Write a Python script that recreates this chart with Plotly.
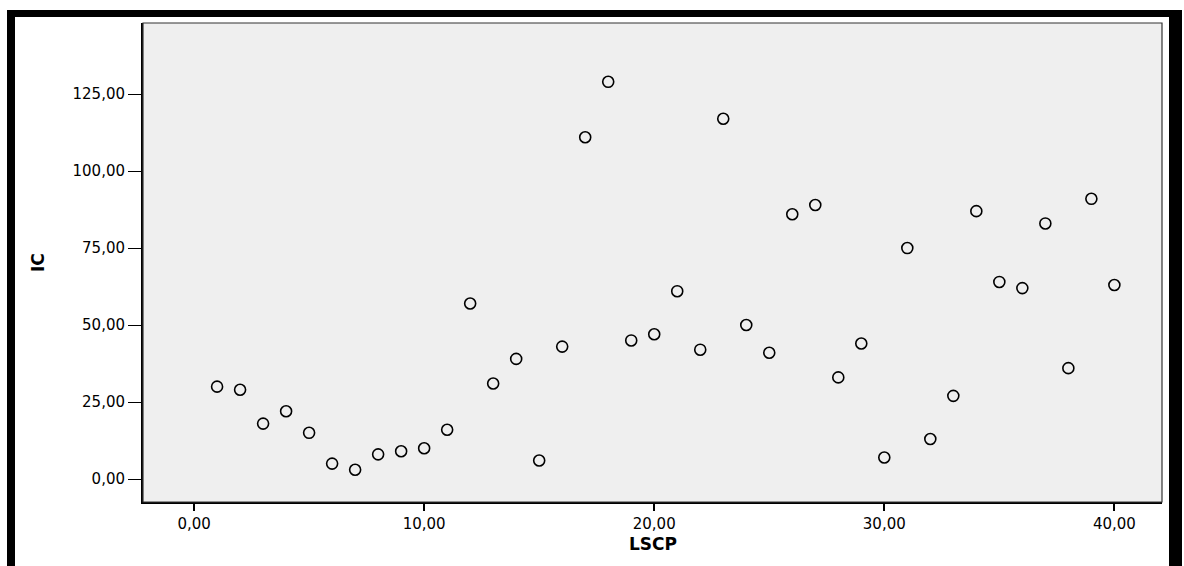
import plotly.graph_objects as go

# Data
lscp = list(range(1, 41))
ic = [30, 29, 18, 22, 15, 5, 3, 8, 9, 10,
      16, 57, 31, 39, 6, 43, 111, 129, 45, 47,
      61, 42, 117, 50, 41, 86, 89, 33, 44, 7,
      75, 13, 27, 87, 64, 62, 83, 36, 91, 63]

x_ticks = [0, 10, 20, 30, 40]
y_ticks = [0, 25, 50, 75, 100, 125]
x_title = "LSCP"
y_title = "IC"

W, H = 1184, 566
L, R, T, B = 143, 1162, 23, 502


def px(x):
    return (x - L) / (R - L)


def py(y):
    return (B - y) / (B - T)


fig = go.Figure()
fig.add_trace(go.Scatter(
    x=lscp, y=ic, mode="markers",
    marker=dict(symbol="circle-open", size=11, color="black",
                line=dict(width=1.6, color="black")),
    showlegend=False, hoverinfo="x+y",
))

font = "DejaVu Sans, Arial, sans-serif"

fig.update_layout(
    width=W, height=H,
    margin=dict(l=L, r=W - R, t=T, b=H - B, pad=0),
    paper_bgcolor="white",
    plot_bgcolor="#efefef",
    separators=",.",
    font=dict(family=font, size=15, color="black"),
    xaxis=dict(
        range=[-2.22, 42.07], tickvals=x_ticks, tickformat=".2f",
        showgrid=False, zeroline=False,
        showline=True, linecolor="black", linewidth=2,
        ticks="outside", ticklen=7, tickwidth=2, tickcolor="black",
        tickfont=dict(family=font, size=15),
    ),
    yaxis=dict(
        range=[-7.47, 148.1], tickvals=y_ticks, tickformat=".2f",
        showgrid=False, zeroline=False,
        showline=True, linecolor="black", linewidth=2,
        ticks="outside", ticklen=13, tickwidth=1.3, tickcolor="black",
        tickfont=dict(family=font, size=15),
    ),
    shapes=[
        # plot box outline
        dict(type="rect", xref="paper", yref="paper", x0=0, x1=1, y0=0, y1=1,
             line=dict(color="#333333", width=1.2), fillcolor="rgba(0,0,0,0)", layer="above"),
        # outer black frame: top, left, right
        dict(type="rect", xref="paper", yref="paper",
             x0=px(7), x1=px(1182), y0=py(17), y1=py(10),
             line=dict(width=0), fillcolor="black"),
        dict(type="rect", xref="paper", yref="paper",
             x0=px(7), x1=px(15), y0=py(570), y1=py(10),
             line=dict(width=0), fillcolor="black"),
        dict(type="rect", xref="paper", yref="paper",
             x0=px(1169), x1=px(1182), y0=py(570), y1=py(10),
             line=dict(width=0), fillcolor="black"),
    ],
    annotations=[
        dict(text="<b>" + x_title + "</b>", xref="paper", yref="paper",
             x=px(652.5), y=py(543.5), showarrow=False,
             font=dict(family=font, size=17, color="black"),
             xanchor="center", yanchor="middle"),
        dict(text="<b>" + y_title + "</b>", xref="paper", yref="paper",
             x=px(37.5), y=py(262.5), showarrow=False, textangle=-90,
             font=dict(family=font, size=17, color="black"),
             xanchor="center", yanchor="middle"),
    ],
)

fig.write_html("out.html",
               config={"displayModeBar": False},
               post_script="document.body.style.margin='0';document.body.style.padding='0';")
